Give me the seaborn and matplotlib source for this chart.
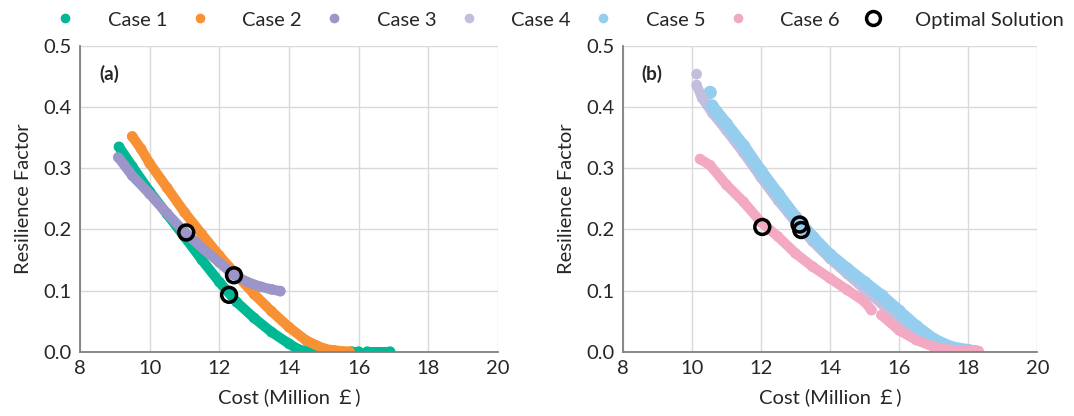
import pandas as pd
import matplotlib
matplotlib.use("Agg")
import matplotlib.pyplot as plt
from matplotlib.lines import Line2D
import seaborn as sns

# Pareto fronts (cost in million pounds, resilience factor)
# seg splits a front where the points have a visible gap
case1_cost = [9.12, 9.5, 10.0, 10.5, 11.0, 11.5, 12.0, 12.5, 13.0, 13.5, 14.0, 14.3, 14.6, 15.1, 15.8, 16.0, 16.25, 16.9]
case1_rf = [0.335, 0.303, 0.262, 0.225, 0.188, 0.150, 0.114, 0.081, 0.055, 0.032, 0.013, 0.003, 0.0, 0.0, 0.0, 0.0, 0.0, 0.0]
case1_seg = [0] * 14 + [1, 1, 2, 2]

case2_cost = [9.5, 9.75, 10.0, 10.5, 11.0, 11.5, 12.0, 12.5, 13.0, 13.5, 14.0, 14.5, 15.0, 15.3, 15.75]
case2_rf = [0.352, 0.332, 0.308, 0.268, 0.228, 0.192, 0.157, 0.125, 0.094, 0.066, 0.040, 0.018, 0.005, 0.002, 0.0]
case2_seg = [0] * 15

case3_cost = [9.1, 9.5, 10.0, 10.5, 11.0, 11.5, 12.0, 12.4, 12.8, 13.2, 13.5, 13.75]
case3_rf = [0.318, 0.288, 0.258, 0.226, 0.196, 0.170, 0.146, 0.126, 0.114, 0.106, 0.102, 0.099]
case3_seg = [0] * 12

case4_cost = [10.14, 10.14, 10.3, 10.6, 11.0, 11.5, 12.0, 12.5, 13.0, 13.5, 14.0, 14.5, 15.0, 15.5, 16.0, 16.5, 17.0, 17.5, 18.0, 18.15]
case4_rf = [0.454, 0.436, 0.415, 0.390, 0.362, 0.325, 0.285, 0.247, 0.212, 0.180, 0.152, 0.127, 0.102, 0.078, 0.052, 0.030, 0.013, 0.004, 0.001, 0.0]
case4_seg = [0] + [1] * 19

case5_cost = [10.53, 10.58, 11.0, 11.5, 12.0, 12.5, 13.0, 13.5, 14.0, 14.5, 15.0, 15.5, 16.0, 16.5, 17.0, 17.5, 18.0, 18.2]
case5_rf = [0.424, 0.402, 0.372, 0.336, 0.295, 0.257, 0.220, 0.187, 0.158, 0.135, 0.113, 0.091, 0.066, 0.041, 0.020, 0.007, 0.002, 0.0]
case5_seg = [0] + [1] * 17

case6_cost = [10.24, 10.53, 11.0, 11.5, 12.0, 12.5, 13.0, 13.5, 14.0, 14.5, 15.0, 15.2, 15.49, 16.0, 16.5, 17.0, 17.5, 18.3]
case6_rf = [0.315, 0.305, 0.273, 0.245, 0.212, 0.188, 0.161, 0.139, 0.120, 0.101, 0.082, 0.068, 0.060, 0.035, 0.019, 0.008, 0.003, 0.001]
case6_seg = [0] * 12 + [1] * 6

opt_a_cost = [11.05, 12.42, 12.28]
opt_a_rf = [0.195, 0.125, 0.093]
opt_b_cost = [12.04, 13.12, 13.17]
opt_b_rf = [0.204, 0.208, 0.199]

case_names = ["Case 1", "Case 2", "Case 3", "Case 4", "Case 5", "Case 6"]
case_colors = ["#00b894", "#f89034", "#9b95c9", "#c2bede", "#95cdef", "#f2a9c1"]
# the point clouds are not equally wide, case 5 is the thickest band
band_width = [7.2, 7.2, 7.2, 7.2, 9.0, 7.2]

x_ticks = [8, 10, 12, 14, 16, 18, 20]
y_ticks = [0.0, 0.1, 0.2, 0.3, 0.4, 0.5]

FONT = ["Lato", "Noto Sans CJK SC", "DejaVu Sans"]


def front_frame(cost, rf, seg, name):
    return pd.DataFrame({"cost": cost, "rf": rf, "seg": seg, "case": name})


def plot_panel(ax, fronts, opt_cost, opt_rf, tag):
    for df in fronts:
        i = case_names.index(df["case"].iloc[0])
        sns.lineplot(
            data=df, x="cost", y="rf", units="seg", estimator=None, sort=False,
            color=case_colors[i], lw=band_width[i], solid_capstyle="round",
            ax=ax, legend=False,
        )
        sns.scatterplot(
            data=df, x="cost", y="rf", color=case_colors[i],
            s=band_width[i] ** 2 * 1.15, edgecolor="none", ax=ax, legend=False,
        )

    sns.scatterplot(x=opt_cost, y=opt_rf, s=115, color="black", linewidth=2.5, ax=ax, zorder=5)
    ax.collections[-1].set_facecolor("none")
    ax.collections[-1].set_edgecolor("black")

    ax.set_xlim(8, 20)
    ax.set_ylim(0, 0.5)
    ax.set_xticks(x_ticks)
    ax.set_yticks(y_ticks)
    ax.set_yticklabels([f"{v:.1f}" for v in y_ticks])
    ax.grid(True, color="#d9d9d9", lw=1)
    ax.set_axisbelow(True)
    ax.tick_params(length=0, labelsize=14.5, pad=6)
    for lab in ax.get_xticklabels() + ax.get_yticklabels():
        lab.set_family(FONT)
    for side in ["top", "right"]:
        ax.spines[side].set_visible(False)
    for side in ["left", "bottom"]:
        ax.spines[side].set_color("#808080")
        ax.spines[side].set_linewidth(1.3)

    ax.set_xlabel("Cost (Million \uffe1)", fontsize=14.5, family=FONT, labelpad=8)
    ax.set_ylabel("Resilience Factor", fontsize=14.5, family=FONT, labelpad=8)
    ax.text(8.55, 0.455, tag, fontsize=13.5, fontweight="bold", family=FONT, va="center")


sns.set_style("white")
plt.rcParams["font.family"] = FONT

fig = plt.figure(figsize=(10.74, 4.16), dpi=100)
ax_a = fig.add_axes([0.0745, 0.1546, 0.3892, 0.7348])
ax_b = fig.add_axes([0.5798, 0.1546, 0.3860, 0.7348])

plot_panel(
    ax_a,
    [
        front_frame(case1_cost, case1_rf, case1_seg, "Case 1"),
        front_frame(case2_cost, case2_rf, case2_seg, "Case 2"),
        front_frame(case3_cost, case3_rf, case3_seg, "Case 3"),
    ],
    opt_a_cost, opt_a_rf, "(a)",
)
plot_panel(
    ax_b,
    [
        front_frame(case4_cost, case4_rf, case4_seg, "Case 4"),
        front_frame(case5_cost, case5_rf, case5_seg, "Case 5"),
        front_frame(case6_cost, case6_rf, case6_seg, "Case 6"),
    ],
    opt_b_cost, opt_b_rf, "(b)",
)

handles = [
    Line2D([], [], ls="none", marker="o", ms=7, color=c, mec="none")
    for c in case_colors
]
handles.append(Line2D([], [], ls="none", marker="o", ms=10, mfc="none", mec="black", mew=2.5))
labels = case_names + ["Optimal Solution"]
fig.legend(
    handles, labels, loc="center", bbox_to_anchor=(0.521, 0.952), ncol=7,
    frameon=False, fontsize=14.5, handlelength=1.0, handletextpad=1.6,
    columnspacing=1.12,
)

fig.savefig("out.png", dpi=100)
